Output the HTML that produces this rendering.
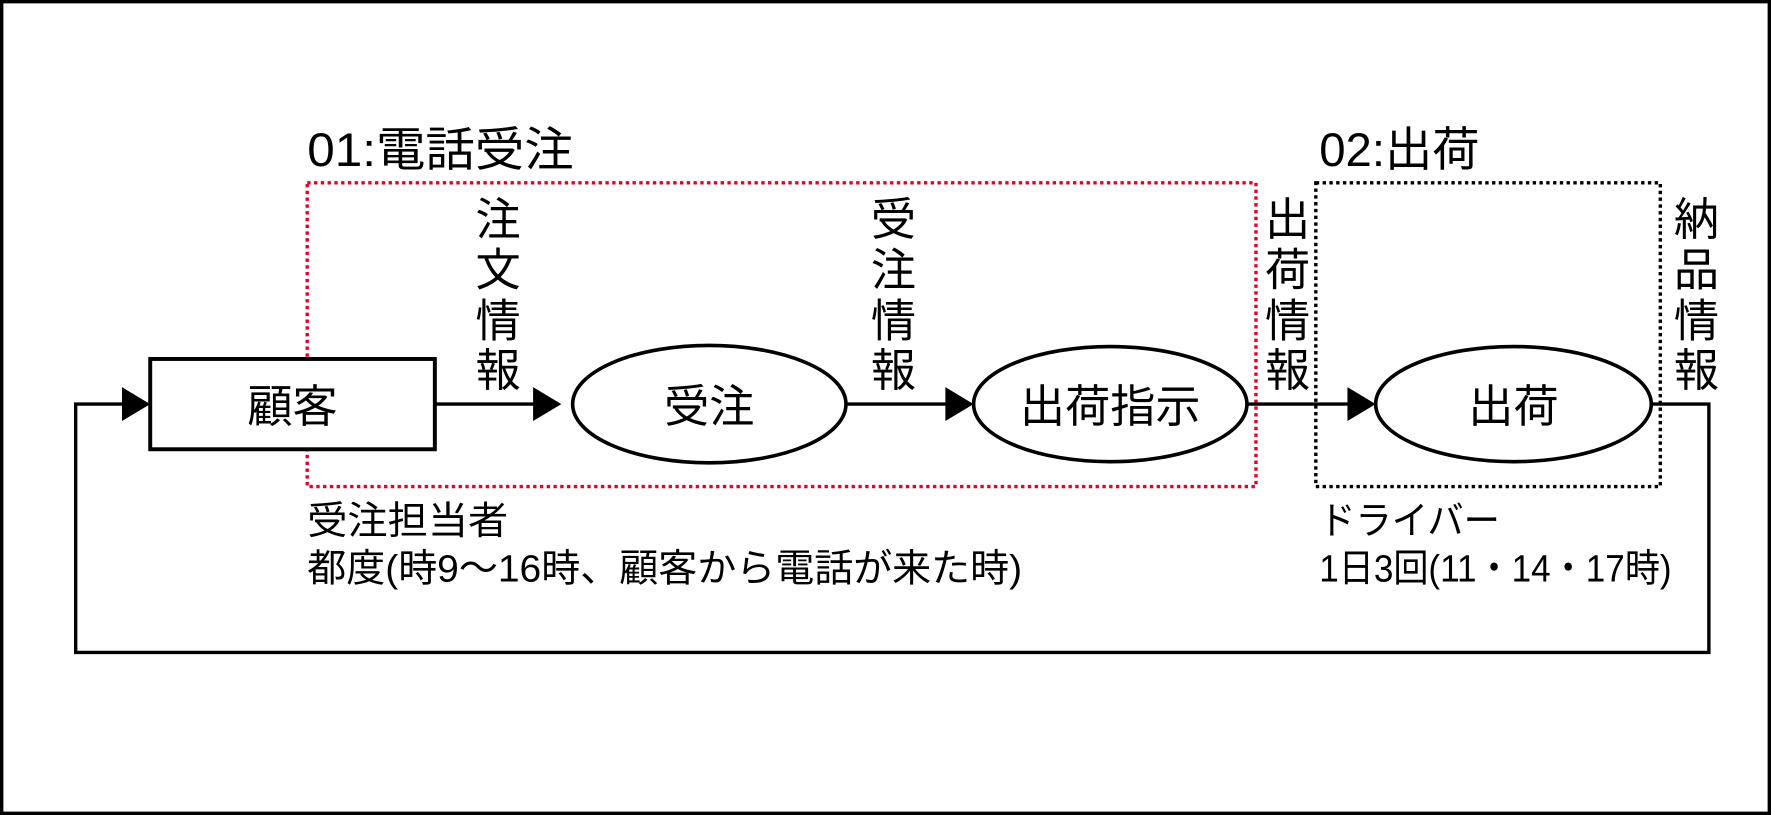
<!DOCTYPE html>
<html><head><meta charset="utf-8"><style>
html,body{margin:0;padding:0;background:#fff;}
svg{display:block;}
text{font-family:"Liberation Sans","Noto Sans CJK JP",sans-serif;fill:#000;}
</style></head><body>
<svg width="1771" height="815" viewBox="0 0 1568 722" preserveAspectRatio="none" xmlns="http://www.w3.org/2000/svg">
<rect x="1.5" y="1.5" width="1565" height="719" fill="#fff" stroke="#000" stroke-width="3"/>
<text x="272" y="147" font-size="42" textLength="236" lengthAdjust="spacingAndGlyphs">01:電話受注</text>
<text x="1168" y="147" font-size="42" textLength="142" lengthAdjust="spacingAndGlyphs">02:出荷</text>
<rect x="272" y="162" width="840" height="269" fill="none" stroke="#e8002a" stroke-width="3" stroke-dasharray="3 3"/>
<rect x="1165" y="162" width="305" height="269" fill="none" stroke="#000" stroke-width="3" stroke-dasharray="3 3"/>
<polyline points="1462,358 1513,358 1513,578 67,578 67,358 110,358" fill="none" stroke="#000" stroke-width="3"/>
<polygon points="108,343 133,358 108,373" fill="#000"/>
<rect x="133" y="318" width="252" height="80" fill="#fff" stroke="#000" stroke-width="3.5"/>
<text x="259" y="374" font-size="40" text-anchor="middle">顧客</text>
<line x1="385" y1="358" x2="475" y2="358" stroke="#000" stroke-width="3"/>
<polygon points="472,343 497,358 472,373" fill="#000"/>
<line x1="749" y1="358" x2="840" y2="358" stroke="#000" stroke-width="3"/>
<polygon points="837,343 862,358 837,373" fill="#000"/>
<line x1="1105" y1="358" x2="1196" y2="358" stroke="#000" stroke-width="3"/>
<polygon points="1193,343 1218,358 1193,373" fill="#000"/>
<ellipse cx="628" cy="358" rx="121" ry="52" fill="#fff" stroke="#000" stroke-width="3.2"/>
<text x="628" y="374" font-size="40" text-anchor="middle">受注</text>
<ellipse cx="983" cy="358" rx="121" ry="51" fill="#fff" stroke="#000" stroke-width="3.2"/>
<text x="983" y="374" font-size="40" text-anchor="middle">出荷指示</text>
<ellipse cx="1340" cy="358" rx="122" ry="51" fill="#fff" stroke="#000" stroke-width="3.2"/>
<text x="1340" y="374" font-size="40" text-anchor="middle">出荷</text>
<g font-size="40" text-anchor="middle">
<text x="441" y="208">注</text><text x="441" y="253">文</text><text x="441" y="298">情</text><text x="441" y="342">報</text>
<text x="791" y="208">受</text><text x="791" y="253">注</text><text x="791" y="298">情</text><text x="791" y="342">報</text>
<text x="1140" y="208">出</text><text x="1140" y="253">荷</text><text x="1140" y="298">情</text><text x="1140" y="342">報</text>
<text x="1502" y="208">納</text><text x="1502" y="253">品</text><text x="1502" y="298">情</text><text x="1502" y="342">報</text>
</g>
<text x="272" y="473" font-size="34" textLength="178" lengthAdjust="spacingAndGlyphs">受注担当者</text>
<text x="272" y="515" font-size="34" textLength="633" lengthAdjust="spacingAndGlyphs">都度(時9～16時、顧客から電話が来た時)</text>
<text x="1168" y="473" font-size="34" textLength="160" lengthAdjust="spacingAndGlyphs">ドライバー</text>
<text x="1168" y="515" font-size="34" textLength="312" lengthAdjust="spacingAndGlyphs">1日3回(11・14・17時)</text>
</svg>
</body></html>
